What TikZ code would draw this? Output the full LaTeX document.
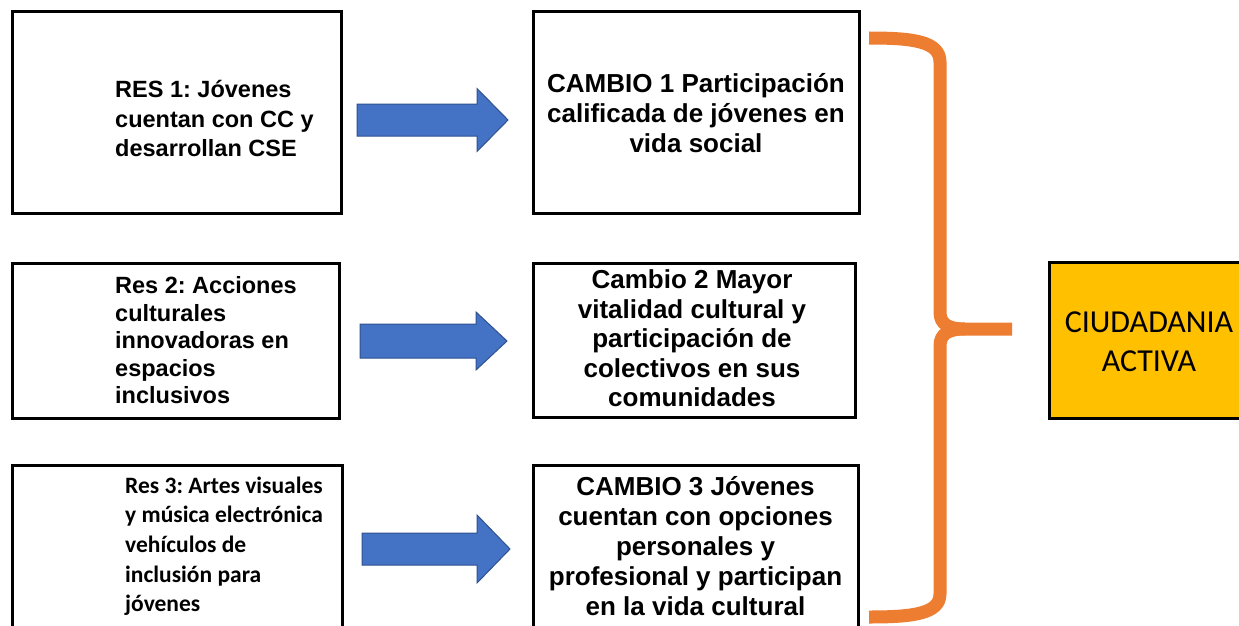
\documentclass[tikz,border=0pt]{standalone}
\usepackage{fontspec}
\newfontfamily\arialf{Liberation Sans}
\newfontfamily\calif{Carlito}
\frenchspacing
\definecolor{arrblue}{HTML}{4472C4}
\definecolor{arrline}{HTML}{2F528F}
\definecolor{braceor}{HTML}{ED7D31}
\definecolor{goldbox}{HTML}{FFC000}
\tikzset{
  box/.style={draw=black, line width=3pt, fill=white, rectangle, inner sep=0pt},
  goalbox/.style={box, fill=goldbox},
  txtA/.style={inner sep=0pt, anchor=north west, align=left, font=\arialf\bfseries\fontsize{23.5pt}{#1}\selectfont},
  txtC/.style={inner sep=0pt, anchor=north west, align=left, font=\calif\bfseries\fontsize{23.5pt}{#1}\selectfont},
  txtB/.style={inner sep=0pt, anchor=north, align=center, font=\arialf\bfseries\fontsize{26pt}{#1}\selectfont},
  txtG/.style={inner sep=0pt, anchor=north, align=center, font=\calif\fontsize{32pt}{#1}\selectfont},
  blockarrow/.style={draw=arrline, line width=1pt, fill=arrblue, line join=miter},
  bracestyle/.style={draw=braceor, line width=13pt, line cap=butt, line join=round}
}
\begin{document}
\begin{tikzpicture}[x=1pt,y=-1pt]
\useasboundingbox (0,0) rectangle (1239,626);
\clip (0,0) rectangle (1239,626);
\fill[white] (0,0) rectangle (1239,626);
% left boxes
\node[box, minimum width=329pt, minimum height=201pt] (a1) at (176.5,112.5) {};
\node[box, minimum width=327pt, minimum height=155pt] (a2) at (175.5,340.5) {};
\node[box, minimum width=330pt, minimum height=180pt] (a3) at (177,555) {};
% middle boxes
\node[box, minimum width=326pt, minimum height=201pt] (b1) at (696,112.5) {};
\node[box, minimum width=322pt, minimum height=154pt] (b2) at (694,340) {};
\node[box, minimum width=325pt, minimum height=180pt] (b3) at (695.5,555) {};
% goal box
\node[goalbox, minimum width=200pt, minimum height=156pt] (c) at (1149,340) {};
% texts
\node[txtA=29.5pt] (ta1) at (115,77.05) {\strut RES 1: Jóvenes\\cuentan con CC y\\desarrollan CSE};
\node[txtA=27.5pt] (ta2) at (115,274.05) {\strut Res 2: Acciones\\culturales\\innovadoras en\\espacios\\inclusivos};
\node[txtC=29.7pt] (ta3) at (125,472.2) {\strut Res 3: Artes visuales\\y música electrónica\\vehículos de\\inclusión para\\jóvenes};
\node[txtB=30pt] (tb1) at (696,71.7) {\strut CAMBIO 1 Participación\\calificada de jóvenes en\\vida social};
\node[txtB=29.6pt] (tb2) at (692,267.6) {\strut Cambio 2 Mayor\\vitalidad cultural y\\participación de\\colectivos en sus\\comunidades};
\node[txtB=30pt] (tb3) at (695.5,474.7) {\strut CAMBIO 3 Jóvenes\\cuentan con opciones\\personales y\\profesional y participan\\en la vida cultural};
\node[txtG=38.3pt] (tc) at (1149,305.9) {\strut CIUDADANIA\\ACTIVA};
% block arrows
\draw[blockarrow] (357,120) coordinate (arr1) -- ++(0,-16) -- ++(120,0) -- ++(0,-15.5) -- ++(31,31.5)
  -- ++(-31,31.5) -- ++(0,-15.5) -- ++(-120,0) -- cycle;
\draw[blockarrow] (360,341) coordinate (arr2) -- ++(0,-17) -- ++(116,0) -- ++(0,-12) -- ++(31,29)
  -- ++(-31,29) -- ++(0,-12) -- ++(-116,0) -- cycle;
\draw[blockarrow] (362,549) coordinate (arr3) -- ++(0,-16) -- ++(115,0) -- ++(0,-18) -- ++(33,34)
  -- ++(-33,34) -- ++(0,-18) -- ++(-115,0) -- cycle;
% brace
\coordinate (bt) at (869,38);
\coordinate (bb) at (869,617);
\coordinate (bm) at (1012,329);
\draw[bracestyle] (bt) .. controls (912,38) and (940,41) .. (940,62) -- (940,312)
  .. controls (940,324) and (948,329) .. (965,329) -- (bm);
\draw[bracestyle] (bb) .. controls (912,617) and (940,614) .. (940,594) -- (940,346)
  .. controls (940,334) and (948,329) .. (965,329);
\end{tikzpicture}
\end{document}
